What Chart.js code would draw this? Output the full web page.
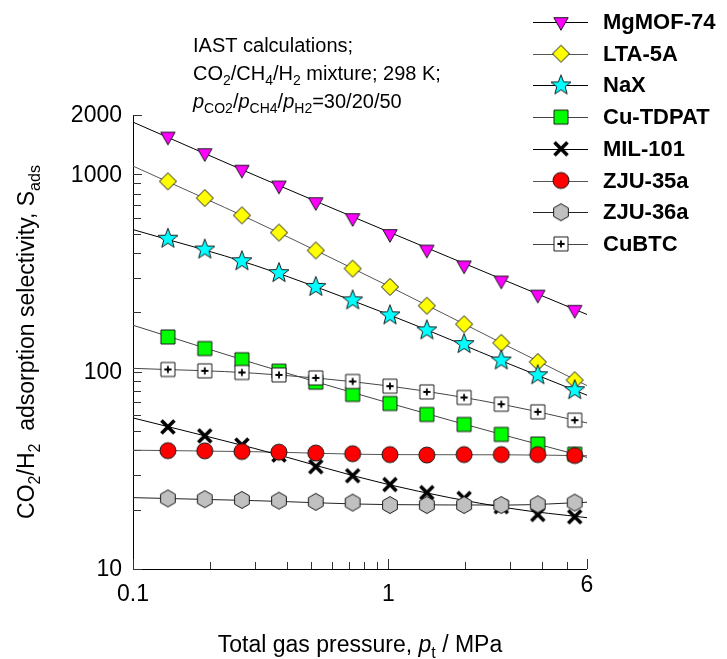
<!DOCTYPE html>
<html>
<head>
<meta charset="utf-8">
<title>CO2/H2 adsorption selectivity</title>
<script src="https://cdn.jsdelivr.net/npm/chart.js@4.4.0/dist/chart.umd.min.js"></script>
<style>
  html, body { margin: 0; padding: 0; background: #fff; }
  #wrap { width: 727px; height: 659px; }
</style>
</head>
<body>
<div id="wrap"><canvas id="selChart" width="727" height="659"></canvas></div>
<script>
// IAST selectivity data, CO2/CH4/H2 = 30/20/50 at 298 K
const pressure = [0.137, 0.191, 0.267, 0.373, 0.52, 0.725, 1.015, 1.415, 1.98, 2.77, 3.85, 5.37];
const mgmof74 = [1556, 1282, 1057, 879, 724, 601, 499, 416, 346, 290, 246, 206];
const lta5a = [922, 759, 620, 507, 412, 333, 269, 216, 174, 140, 112, 90.6];
const nax = [472, 416, 363, 316, 269, 230, 193, 162, 138, 114, 96, 80.6];
const cuTdpat = [150, 131, 115, 100.6, 88.5, 76.7, 69, 60.7, 54, 48.1, 43, 38.2];
const mil101 = [52.5, 47.3, 42.5, 37.8, 33, 29.7, 26.8, 24.4, 22.8, 20.7, 18.9, 18.4];
const zju35a = [39.8, 39.7, 39.4, 39.1, 38.7, 38.4, 38.0, 37.8, 38.0, 38.0, 38.0, 37.6];
const zju36a = [22.8, 22.6, 22.4, 22.2, 21.9, 21.7, 21.1, 21.1, 21.1, 21.1, 21.3, 21.7];
const cuBtc = [102.6, 101, 99.1, 96.3, 93, 89.2, 84.5, 79, 74, 68.4, 62.6, 56.8];

// fitted curves, sampled across the full pressure range
const fitPressure = [0.1, 0.3, 1, 3, 6];
const mgmof74Fit = [1840, 990, 512, 283, 195];
const lta5aFit = [1102, 578, 272, 133, 85];
const naxFit = [525, 346, 195, 109, 76];
const cuTdpatFit = [172, 110, 69.5, 46.8, 36.8];
const mil101Fit = [58.3, 40.8, 26.8, 20.3, 18.2];
const zju35aFit = [40.0, 39.3, 38.0, 37.9, 37.5];
const zju36aFit = [23.0, 22.2, 21.2, 21.1, 21.8];
const cuBtcFit = [104, 98.2, 84.7, 67, 55];

const seriesNames = ["MgMOF-74", "LTA-5A", "NaX", "Cu-TDPAT", "MIL-101", "ZJU-35a", "ZJU-36a", "CuBTC"];

// axis ticks
const xMajorTicks = [0.1, 1, 6];
const xMinorTicks = [0.2, 0.3, 0.4, 0.5, 0.6, 0.7, 0.8, 0.9, 2, 3, 4, 5];
const xTickLabels = ["0.1", "1", "6"];
const yMajorTicks = [10, 100, 1000, 2000];
const yMinorTicks = [20, 30, 40, 50, 60, 70, 80, 90, 200, 300, 400, 500, 600, 700, 800, 900];
const yTickLabels = ["10", "100", "1000", "2000"];

const FONT = '"Liberation Sans", Arial, Helvetica, sans-serif';

// symbols drawn once onto small canvases and used as point styles
function makeMarker(shape, fill) {
  const c = document.createElement("canvas");
  c.width = 24;
  c.height = 24;
  const g = c.getContext("2d");
  g.translate(12, 12);
  g.fillStyle = fill;
  g.strokeStyle = "#1a1a1a";
  g.lineWidth = 1;
  g.beginPath();
  if (shape === "triDown") {
    g.moveTo(-7.2, -4.3); g.lineTo(7.2, -4.3); g.lineTo(0, 8.3); g.closePath();
  } else if (shape === "diamond") {
    g.moveTo(0, -8.5); g.lineTo(8.5, 0); g.lineTo(0, 8.5); g.lineTo(-8.5, 0); g.closePath();
  } else if (shape === "star") {
    for (let i = 0; i < 10; i++) {
      const r = i % 2 === 0 ? 10.5 : 4.4;
      const a = -Math.PI / 2 + i * Math.PI / 5;
      if (i === 0) g.moveTo(r * Math.cos(a), r * Math.sin(a));
      else g.lineTo(r * Math.cos(a), r * Math.sin(a));
    }
    g.closePath();
  } else if (shape === "square") {
    g.rect(-7, -7, 14, 14);
  } else if (shape === "circle") {
    g.arc(0, 0, 8, 0, Math.PI * 2);
  } else if (shape === "hexagon") {
    for (let i = 0; i < 6; i++) {
      const a = -Math.PI / 2 + i * Math.PI / 3;
      if (i === 0) g.moveTo(8.5 * Math.cos(a), 8.5 * Math.sin(a));
      else g.lineTo(8.5 * Math.cos(a), 8.5 * Math.sin(a));
    }
    g.closePath();
  } else if (shape === "plusSquare") {
    g.rect(-7, -7, 14, 14);
  }

  if (shape === "cross") {
    g.strokeStyle = "#000";
    g.lineWidth = 3.6;
    g.moveTo(-6.5, -6.5); g.lineTo(6.5, 6.5);
    g.moveTo(6.5, -6.5); g.lineTo(-6.5, 6.5);
    g.stroke();
  } else {
    g.fill();
    g.stroke();
  }
  if (shape === "plusSquare") {
    g.beginPath();
    g.strokeStyle = "#000";
    g.lineWidth = 1.8;
    g.moveTo(-3.6, 0); g.lineTo(3.6, 0);
    g.moveTo(0, -3.6); g.lineTo(0, 3.6);
    g.stroke();
  }
  return c;
}

const markers = [
  makeMarker("triDown", "#ff00ff"),
  makeMarker("diamond", "#ffff00"),
  makeMarker("star", "#00ffff"),
  makeMarker("square", "#00ff00"),
  makeMarker("cross", "#000"),
  makeMarker("circle", "#ff0000"),
  makeMarker("hexagon", "#c0c0c0"),
  makeMarker("plusSquare", "#ffffff")
];
const lineColors = ["#000", "#555", "#000", "#444", "#000", "#555", "#222", "#444"];

const pointSeries = [mgmof74, lta5a, nax, cuTdpat, mil101, zju35a, zju36a, cuBtc];
const fitSeries = [mgmof74Fit, lta5aFit, naxFit, cuTdpatFit, mil101Fit, zju35aFit, zju36aFit, cuBtcFit];

const datasets = [];
seriesNames.forEach((name, i) => {
  datasets.push({
    type: "line",
    label: name + " fit",
    data: fitPressure.map((p, k) => ({ x: p, y: fitSeries[i][k] })),
    borderColor: lineColors[i],
    borderWidth: 1,
    pointRadius: 0,
    cubicInterpolationMode: "monotone",
    fill: false,
    order: 20
  });
  datasets.push({
    type: "scatter",
    label: name,
    data: pressure.map((p, k) => ({ x: p, y: pointSeries[i][k] })),
    pointStyle: markers[i],
    pointRadius: 9,
    showLine: false,
    order: 8 - i
  });
});

// text runs with italic / subscript parts
function drawRich(ctx, parts, x, y, size, align) {
  const fontFor = p => (p.bold ? "bold " : "") + (p.it ? "italic " : "") +
    (p.sub ? Math.round(size * 0.7) : size) + "px " + FONT;
  let total = 0;
  const widths = parts.map(p => {
    ctx.font = fontFor(p);
    const w = ctx.measureText(p.t).width;
    total += w;
    return w;
  });
  let cx = align === "center" ? x - total / 2 : x;
  ctx.textAlign = "left";
  ctx.textBaseline = "alphabetic";
  parts.forEach((p, k) => {
    ctx.font = fontFor(p);
    ctx.fillText(p.t, cx, y + (p.sub ? size * 0.27 : 0));
    cx += widths[k];
  });
}

const axesPlugin = {
  id: "logAxes",
  beforeDatasetsDraw(chart) {
    const { ctx, chartArea: a, scales: { x, y } } = chart;
    ctx.save();
    ctx.strokeStyle = "#000";
    ctx.lineWidth = 1;
    ctx.beginPath();
    ctx.moveTo(a.left + 0.5, a.top);
    ctx.lineTo(a.left + 0.5, a.bottom + 0.5);
    ctx.lineTo(a.right, a.bottom + 0.5);
    ctx.stroke();

    // ticks point inward
    ctx.strokeStyle = "#333";
    ctx.beginPath();
    const xTick = (v, len) => {
      const px = Math.round(x.getPixelForValue(v)) + 0.5;
      ctx.moveTo(px, a.bottom);
      ctx.lineTo(px, a.bottom - len);
    };
    const yTick = (v, len) => {
      const py = Math.round(y.getPixelForValue(v)) + 0.5;
      ctx.moveTo(a.left, py);
      ctx.lineTo(a.left + len, py);
    };
    xMajorTicks.forEach(v => xTick(v, 10));
    xMinorTicks.forEach(v => xTick(v, 7));
    yMajorTicks.forEach(v => yTick(v, 9));
    yMinorTicks.forEach(v => yTick(v, 8));
    ctx.stroke();
    ctx.restore();
  },
  afterDraw(chart) {
    const { ctx, chartArea: a, scales: { x, y } } = chart;
    ctx.save();
    ctx.fillStyle = "#000";

    // tick labels
    ctx.font = "23px " + FONT;
    ctx.textAlign = "right";
    ctx.textBaseline = "middle";
    yMajorTicks.forEach((v, k) => ctx.fillText(yTickLabels[k], a.left - 11, y.getPixelForValue(v) + 1));
    ctx.textAlign = "center";
    xMajorTicks.forEach((v, k) => {
      const lift = k === xMajorTicks.length - 1 ? 9 : 0;
      ctx.fillText(xTickLabels[k], x.getPixelForValue(v), a.bottom + 26 - lift);
    });

    // axis titles
    drawRich(ctx, [
      { t: "Total gas pressure, " }, { t: "p", it: true }, { t: "t", sub: true }, { t: " / MPa" }
    ], (a.left + a.right) / 2, 652, 23, "center");

    ctx.save();
    ctx.translate(34, (a.top + a.bottom) / 2);
    ctx.rotate(-Math.PI / 2);
    drawRich(ctx, [
      { t: "CO" }, { t: "2", sub: true }, { t: "/H" }, { t: "2", sub: true },
      { t: "  adsorption selectivity, S" }, { t: "ads", sub: true }
    ], 0, 0, 23, "center");
    ctx.restore();

    // conditions note
    drawRich(ctx, [{ t: "IAST calculations;" }], 193, 52, 20, "left");
    drawRich(ctx, [
      { t: "CO" }, { t: "2", sub: true }, { t: "/CH" }, { t: "4", sub: true },
      { t: "/H" }, { t: "2", sub: true }, { t: " mixture; 298 K;" }
    ], 193, 80, 20, "left");
    drawRich(ctx, [
      { t: "p", it: true }, { t: "CO2", sub: true }, { t: "/" },
      { t: "p", it: true }, { t: "CH4", sub: true }, { t: "/" },
      { t: "p", it: true }, { t: "H2", sub: true }, { t: "=30/20/50" }
    ], 193, 108, 20, "left");

    // legend: line segment with symbol, bold name
    seriesNames.forEach((name, i) => {
      const ly = 22 + i * 31.7;
      ctx.strokeStyle = lineColors[i];
      ctx.lineWidth = 1;
      ctx.beginPath();
      ctx.moveTo(533, Math.round(ly) + 0.5);
      ctx.lineTo(588, Math.round(ly) + 0.5);
      ctx.stroke();
      const m = markers[i];
      ctx.drawImage(m, 561 - m.width / 2, ly - m.height / 2);
      ctx.font = "bold 22px " + FONT;
      ctx.textAlign = "left";
      ctx.textBaseline = "middle";
      ctx.fillText(name, 603, ly + 1);
    });
    ctx.restore();
  }
};

new Chart(document.getElementById("selChart"), {
  data: { datasets: datasets },
  options: {
    responsive: false,
    animation: false,
    events: [],
    layout: { padding: { left: 133, right: 140, top: 115, bottom: 90 } },
    plugins: { legend: { display: false }, tooltip: { enabled: false } },
    scales: {
      x: { type: "logarithmic", min: 0.1, max: 6, display: false },
      y: { type: "logarithmic", min: 10, max: 2000, display: false }
    }
  },
  plugins: [axesPlugin]
});
</script>
</body>
</html>
